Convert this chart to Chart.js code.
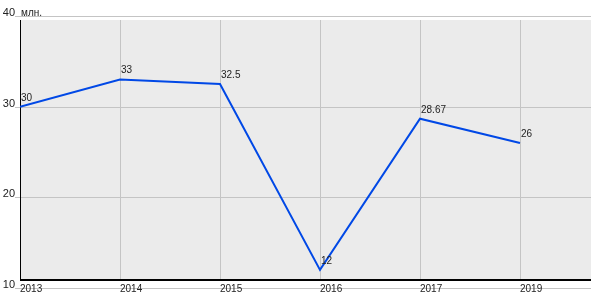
<!DOCTYPE html>
<html>
<head>
<meta charset="utf-8">
<script src="https://cdn.jsdelivr.net/npm/chart.js@4/dist/chart.umd.min.js"></script>
<style>
html,body{margin:0;padding:0;background:#fff;}
#wrap{width:600px;height:300px;}
</style>
</head>
<body>
<div id="wrap"><canvas id="c" width="600" height="300"></canvas></div>
<script>
const categories = ["2013", "2014", "2015", "2016", "2017", "2019"];
const values = [30, 33, 32.5, 12, 28.67, 26];
const yTicks = [10, 20, 30, 40];
const unitLabel = "млн.";

const FONT = '"Liberation Sans", Arial, sans-serif';

const decor = {
  id: 'decor',
  beforeDraw(chart) {
    const ctx = chart.ctx;
    const xs = chart.scales.x, ys = chart.scales.y;
    const ca = chart.chartArea;
    const x0 = xs.getPixelForValue(0);
    const right = ca.right;
    const gTop = ys.getPixelForValue(40) + 4;
    const gBot = ys.getPixelForValue(10) - 8;
    ctx.save();
    ctx.fillStyle = '#ebebeb';
    ctx.fillRect(x0, gTop, right - x0, gBot - gTop);
    ctx.fillStyle = '#c4c4c4';
    for (let i = 1; i < categories.length; i++) {
      const px = Math.round(xs.getPixelForValue(i));
      ctx.fillRect(px, gTop, 1, gBot - gTop);
    }
    yTicks.forEach(v => {
      const py = Math.round(ys.getPixelForValue(v));
      ctx.fillRect(x0 - 5, py, right - x0 + 5, 1);
    });
    ctx.fillStyle = '#000';
    ctx.fillRect(x0, gTop, 1, gBot - gTop);
    ctx.fillRect(x0, gBot - 1, right - x0, 2);
    ctx.fillStyle = '#222';
    ctx.font = '11px ' + FONT;
    ctx.textAlign = 'right';
    ctx.textBaseline = 'alphabetic';
    yTicks.forEach(v => {
      const py = Math.round(ys.getPixelForValue(v));
      ctx.fillText(String(v), x0 - 5, py);
    });
    ctx.textAlign = 'left';
    ctx.font = '10px ' + FONT;
    ctx.fillText(unitLabel, x0 + 1, Math.round(ys.getPixelForValue(40)));
    ctx.textBaseline = 'middle';
    categories.forEach((c, i) => {
      ctx.fillText(c, xs.getPixelForValue(i), ys.getPixelForValue(10) + 1);
    });
    ctx.restore();
  },
  afterDraw(chart) {
    const ctx = chart.ctx;
    const meta = chart.getDatasetMeta(0);
    ctx.save();
    ctx.fillStyle = '#222';
    ctx.font = '10px ' + FONT;
    ctx.textAlign = 'left';
    ctx.textBaseline = 'alphabetic';
    meta.data.forEach((pt, i) => {
      ctx.fillText(String(values[i]), pt.x + 1, pt.y - 6);
    });
    ctx.restore();
  }
};

new Chart(document.getElementById('c'), {
  type: 'line',
  data: {
    datasets: [{
      data: values.map((v, i) => ({x: i, y: v})),
      borderColor: 'rgb(0,72,230)',
      borderWidth: 2,
      pointRadius: 0,
      tension: 0,
      fill: false
    }]
  },
  options: {
    responsive: false,
    animation: false,
    events: [],
    layout: {padding: {left: 20, right: 9, top: 16, bottom: 12}},
    plugins: {legend: {display: false}, tooltip: {enabled: false}},
    scales: {
      x: {type: 'linear', min: 0, max: 5.71, display: false},
      y: {type: 'linear', min: 10, max: 40, display: false}
    }
  },
  plugins: [decor]
});
</script>
</body>
</html>
